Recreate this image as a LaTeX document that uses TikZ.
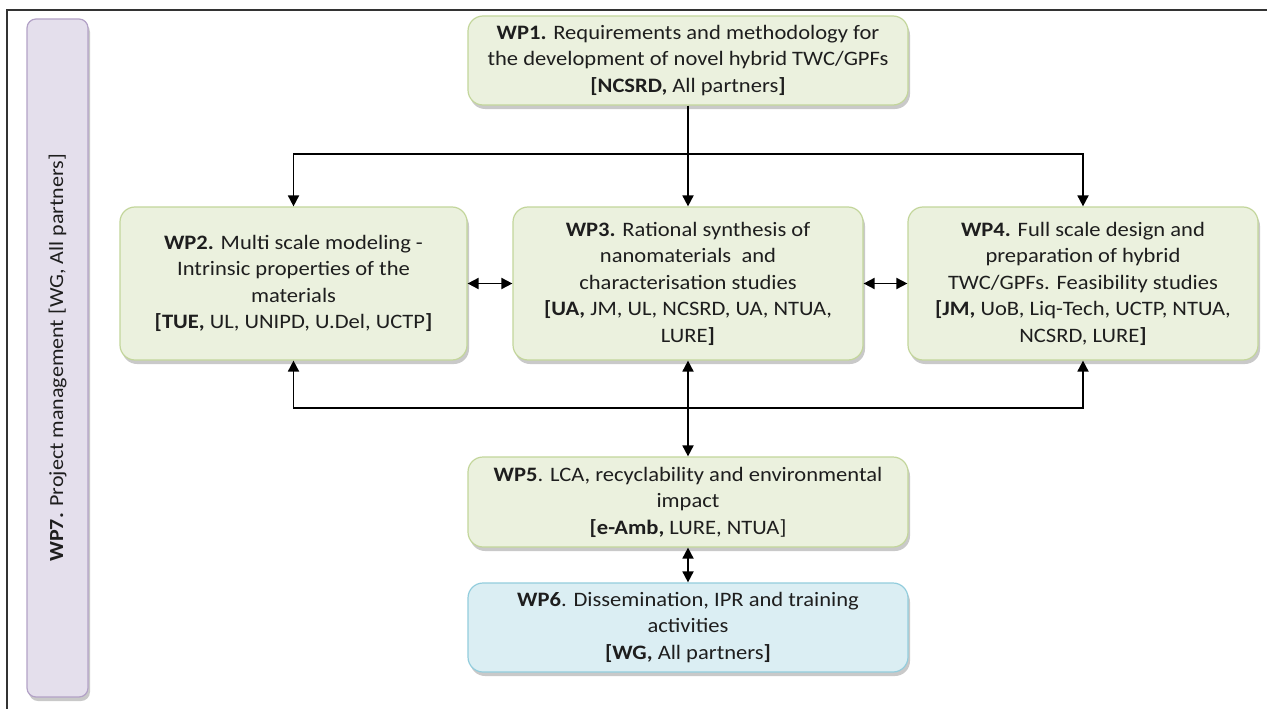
\documentclass[tikz,border=0pt]{standalone}
\usepackage{fontspec}
\setmainfont{Carlito}[FakeStretch=1.1]
\usetikzlibrary{arrows.meta,shadows}
\definecolor{grfill}{HTML}{EBF1DE}
\definecolor{grdraw}{HTML}{C3D69B}
\definecolor{blfill}{HTML}{DBEEF3}
\definecolor{bldraw}{HTML}{93CDDD}
\definecolor{lvfill}{HTML}{E4DFEC}
\definecolor{lvdraw}{HTML}{B3A2C7}
\definecolor{txt}{HTML}{1E1E1E}
\tikzset{
  wpbox/.style={draw=grdraw, fill=grfill, line width=1.2pt, rounded corners=15pt,
    align=center, text=txt, inner sep=4pt,
    font=\fontsize{20.5}{26.5}\selectfont,
    drop shadow={shadow xshift=2pt, shadow yshift=-4pt, opacity=0.35, fill=black!60}},
  bluebox/.style={wpbox, draw=bldraw, fill=blfill},
  mgmtbox/.style={draw=lvdraw, fill=lvfill, line width=1.2pt, rounded corners=9pt,
    drop shadow={shadow xshift=2pt, shadow yshift=-4pt, opacity=0.35, fill=black!60}},
  arr/.style={line width=1.8pt, -{Triangle[length=11pt,width=11pt]}},
  dbl/.style={line width=1.8pt, {Triangle[length=11pt,width=11pt]}-{Triangle[length=11pt,width=11pt]}},
}
\begin{document}
\begin{tikzpicture}[x=1pt,y=-1pt]
\useasboundingbox (0,0) rectangle (1267,709);
\fill[white] (0,0) rectangle (1267,709);
% frame
\draw[line width=1.6pt, black!80] (7,709) -- (7,10) -- (1267,10);

% WP7
\node[mgmtbox, minimum width=61pt, minimum height=678pt] (wp7) at (57.5,358) {};
\node[rotate=90, text=txt, font=\fontsize{20}{24}\selectfont] (wp7t) at (wp7.center)
  {\textbf{WP7.} Project management [WG, All partners]};

% boxes
\node[wpbox, minimum width=440pt, minimum height=89pt] (wp1) at (688,60.5)
  {\textbf{WP1.} Requirements and methodology for\\the development of novel hybrid TWC/GPFs\\\textbf{[NCSRD,} All partners\textbf{]}};
\node[wpbox, minimum width=347pt, minimum height=153pt] (wp2) at (293.5,283.5)
  {\textbf{WP2.} Multi scale modeling -\\Intrinsic properties of the\\materials\\\textbf{[TUE,} UL, UNIPD, U.Del, UCTP\textbf{]}};
\node[wpbox, minimum width=350pt, minimum height=153pt] (wp3) at (688,283.5)
  {\textbf{WP3.} Rational synthesis of\\nanomaterials \ and\\characterisation studies\\\textbf{[UA,} JM, UL, NCSRD, UA, NTUA,\\LURE\textbf{]}};
\node[wpbox, minimum width=350pt, minimum height=153pt] (wp4) at (1083,283.5)
  {\textbf{WP4.} Full scale design and\\preparation of hybrid\\TWC/GPFs. Feasibility studies\\\textbf{[JM,} UoB, Liq-Tech, UCTP, NTUA,\\NCSRD, LURE\textbf{]}};
\node[wpbox, minimum width=440pt, minimum height=90pt] (wp5) at (688,502)
  {\textbf{WP5}. LCA, recyclability and environmental\\impact\\\textbf{[e-Amb,} LURE, NTUA]};
\node[bluebox, minimum width=440pt, minimum height=89pt] (wp6) at (688,627.5)
  {\textbf{WP6}. Dissemination, IPR and training\\activities\\\textbf{[WG,} All partners\textbf{]}};

% connectors
\coordinate (t) at (688,154);
\coordinate (b) at (688,408);
\draw[line width=1.8pt] (wp1.south) -- (t);
\draw[arr] (t) -- (wp3.north);
\draw[arr] (t) -| (wp2.north);
\draw[arr] (t) -| (wp4.north);
\draw[arr] (b) -| (wp2.south);
\draw[arr] (b) -| (wp4.south);
\draw[dbl] (wp3.south) -- (wp5.north);
\draw[dbl] (wp2.east) -- (wp3.west);
\draw[dbl] (wp3.east) -- (wp4.west);
\draw[dbl] (wp5.south) -- (wp6.north);
\end{tikzpicture}
\end{document}
